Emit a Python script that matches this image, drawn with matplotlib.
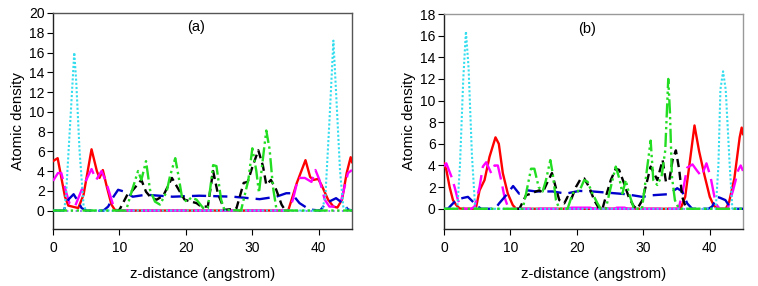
import matplotlib
matplotlib.use("Agg")
import matplotlib.pyplot as plt

plt.rcParams['font.family'] = ['Liberation Sans', 'DejaVu Sans']

# ---------------- Panel (a) data ----------------
a_red_x = [0, 0.7, 1.8, 2.3, 3.8, 4.6, 5.8, 6.6, 7.0, 7.5, 8.1, 8.8, 9.3, 10.0,
           35.4, 36.7, 38.0, 38.7, 39.2, 39.9, 40.4, 41.4, 42.2, 42.8, 43.5, 44.2, 44.8, 45]
a_red_y = [5.0, 5.3, 1.4, 0.5, 0.25, 1.6, 6.2, 4.0, 3.3, 4.1, 2.4, 0.6, 0.07, 0,
           0, 2.8, 5.1, 3.4, 3.1, 3.2, 2.6, 1.1, 0.4, 0.3, 1.1, 3.8, 5.4, 4.9]

a_mag_x = [0, 0.75, 1.25, 2.0, 2.5, 3.3, 4.5, 5.8, 6.5, 7.3, 8.0, 8.8, 9.3, 10.0,
           35.5, 36.1, 36.9, 37.9, 38.9, 39.5, 40.1, 40.9, 41.6, 42.6, 43.4, 44.4, 45]
a_mag_y = [3.0, 3.8, 3.8, 1.8, 0.7, 0.4, 2.4, 4.2, 3.1, 4.0, 2.9, 1.1, 0.07, 0,
           0, 1.1, 3.3, 3.3, 2.9, 4.1, 3.1, 1.1, 0.4, 0.4, 1.1, 3.8, 4.1]

a_cyan_x = [0, 1.7, 2.0, 2.6, 3.2, 3.5, 4.0, 4.6, 5.0,
            40.5, 41.0, 41.6, 42.2, 42.6, 43.2, 43.7, 45]
a_cyan_y = [0, 0, 2.0, 9.0, 16.0, 13.0, 6.0, 0.5, 0,
            0, 1.5, 9.0, 17.2, 12.0, 4.0, 0.3, 0]

a_blue_x = [0, 1.6, 2.3, 3.1, 3.8, 4.3, 5.0, 7.6, 8.3, 9.1, 9.8, 10.8, 12.0, 14.0, 18.0, 22.0,
            27.1, 31.1, 33.6, 35.1, 35.9, 37.1, 38.6, 40.2, 41.1, 42.6, 43.7, 44.4, 45]
a_blue_y = [0, 0, 1.1, 1.65, 0.9, 0.25, 0, 0, 0.4, 1.4, 2.1, 1.9, 1.4, 1.6, 1.4, 1.5,
            1.4, 1.15, 1.4, 1.75, 1.75, 0.75, 0.1, 0, 0.75, 1.25, 0.7, 0.1, 0]

a_black_x = [9.4, 10.0, 11.3, 11.8, 13.3, 14.0, 14.8, 15.6, 16.6, 17.9, 19.1, 19.8, 20.8,
             21.6, 22.3, 23.3, 24.1, 24.8, 25.8, 27.6, 28.7, 29.3, 30.0, 30.9, 31.6, 32.1,
             32.8, 33.6, 34.4, 34.9, 35.5]
a_black_y = [0, 0.07, 1.75, 1.9, 3.1, 1.9, 1.25, 1.1, 1.5, 3.3, 1.9, 1.1, 0.9,
             0.75, 0.4, 0.4, 4.0, 1.75, 0.07, 0.2, 2.8, 2.9, 4.4, 6.1, 4.5, 2.6,
             3.1, 2.1, 0.6, 0.07, 0]

a_green_x = [0, 11.0, 11.6, 12.8, 13.3, 14.0, 14.6, 15.35, 16.1, 17.1, 17.6, 18.4, 18.9,
             19.4, 20.1, 20.8, 21.6, 22.6, 23.3, 24.1, 24.6, 25.3, 25.8, 28.3, 29.4,
             30.0, 30.6, 31.0, 31.6, 32.1, 32.6, 33.1, 33.6, 34.0, 45]
a_green_y = [0, 0, 1.4, 4.0, 3.1, 5.0, 2.1, 0.9, 0.6, 1.9, 3.45, 5.3, 3.45,
             1.4, 0.9, 1.3, 1.1, 0.25, 0.25, 4.6, 4.5, 1.1, 0.07, 0, 3.1,
             6.3, 4.0, 1.8, 5.3, 8.1, 6.2, 2.4, 0.25, 0, 0]

# ---------------- Panel (b) data ----------------
b_red_x = [0, 0.35, 0.85, 1.35, 1.85, 2.35, 3.0,
           4.4, 4.85, 5.35, 6.1, 6.85, 7.75, 8.25, 8.85, 9.6, 10.35, 10.85,
           35.6, 36.3, 36.9, 37.7, 38.4, 39.2, 40.0, 40.6, 41.2,
           42.4, 42.9, 43.7, 44.5, 44.8, 45]
b_red_y = [4.2, 3.6, 2.0, 0.8, 0.34, 0.03, 0,
           0, 0.2, 1.7, 2.65, 4.8, 6.6, 6.0, 3.3, 1.4, 0.34, 0,
           0, 1.1, 3.9, 7.7, 5.3, 3.1, 1.1, 0.3, 0,
           0, 0.6, 2.8, 6.6, 7.5, 6.9]

b_mag_x = [0, 0.35, 1.1, 1.6, 2.1, 2.6, 3.1,
           4.1, 4.6, 5.35, 5.85, 6.35, 7.1, 7.6, 8.1, 8.6, 9.1, 9.6, 10.1,
           35.3, 35.9, 36.6, 37.4, 38.1, 38.75, 39.5, 40.1, 40.7, 41.1, 41.5,
           42.7, 43.5, 44.3, 44.65, 45]
b_mag_y = [3.9, 4.2, 3.0, 2.0, 0.8, 0.2, 0,
           0, 0.2, 2.0, 3.9, 4.3, 3.3, 4.0, 4.0, 2.65, 1.1, 0.2, 0,
           0, 1.5, 3.8, 4.1, 3.5, 3.0, 4.2, 3.0, 1.1, 0.3, 0,
           0, 1.7, 3.6, 4.0, 3.5]

b_cyan_x = [0, 2.0, 2.4, 2.9, 3.3, 3.7, 4.2, 4.7, 5.0,
            40.6, 40.9, 41.3, 41.6, 42.0, 42.4, 43.0, 43.4, 45]
b_cyan_y = [0, 0, 4.0, 12.0, 16.4, 13.0, 5.0, 0, 0,
            0, 0, 4.0, 11.0, 12.7, 11.0, 4.0, 0, 0]

b_blue_x = [0, 0.6, 1.1, 1.85, 2.85, 3.6, 4.35, 5.1, 5.6, 7.7, 8.3, 9.35, 10.4, 11.3,
            12.6, 13.85, 16.35, 18.35, 20.35, 22.35, 24.35, 27.35, 29.85, 31.35, 33.85,
            35.1, 35.85, 36.6, 37.35, 39.8, 40.35, 41.1, 41.6, 42.35, 42.85, 43.35, 45]
b_blue_y = [0, 0, 0.34, 0.8, 1.0, 1.1, 0.65, 0.2, 0, 0, 0.5, 1.25, 2.1, 1.4,
            1.7, 1.6, 1.6, 1.4, 1.65, 1.6, 1.5, 1.35, 1.1, 1.25, 1.35,
            1.9, 1.6, 0.5, 0, 0, 0.2, 1.1, 1.0, 0.8, 0.34, 0, 0]

b_black_x = [11.0, 11.35, 12.35, 13.1, 13.85, 14.35, 14.85, 15.6, 16.25, 16.85, 17.35,
             18.1, 18.6, 19.1, 19.85, 20.6, 21.1, 21.85, 22.6, 23.35, 23.85, 24.35,
             25.1, 25.85, 26.35, 27.1, 27.85, 28.6, 29.1, 29.85, 30.6, 31.1, 31.6,
             32.1, 32.9, 33.4, 33.9, 34.4, 34.9, 35.4, 35.85, 36.35, 36.8]
b_black_y = [0, 0, 1.25, 1.4, 1.6, 1.7, 1.5, 2.5, 3.3, 1.9, 0.8,
             0.5, 1.1, 0.8, 2.0, 2.8, 2.8, 2.0, 0.8, 0, 0, 1.1,
             2.65, 3.7, 3.6, 2.35, 1.0, 0.2, 0, 0.8, 2.65, 3.9, 3.3,
             2.65, 4.5, 2.5, 2.6, 4.5, 5.4, 3.6, 1.1, 0.2, 0]

b_green_x = [0, 11.85, 12.35, 13.1, 13.6, 14.25, 14.85, 15.35, 16.0, 16.35, 16.85, 17.35,
             18.6, 19.35, 19.85, 20.35, 21.1, 21.6, 22.35, 23.1, 23.6, 24.35, 25.1, 25.85,
             26.45, 26.85, 27.35, 27.85, 28.6, 29.8, 30.6, 31.1, 31.5, 32.1, 32.75,
             33.3, 33.75, 34.0, 34.3, 34.75, 35.35, 45]
b_green_y = [0, 0, 1.4, 3.7, 3.7, 2.0, 1.6, 2.65, 4.5, 3.3, 0.8, 0,
             0, 1.4, 1.7, 1.6, 2.65, 2.5, 1.4, 0.5, 0, 0, 2.0, 3.9,
             2.65, 1.4, 2.65, 1.4, 0, 0, 3.9, 6.3, 2.65, 2.2, 3.0,
             5.4, 12.0, 9.0, 3.0, 0.8, 0, 0]

b_pink_x = [18.5, 19.2, 22.0, 22.6, 25.6, 26.0, 27.2, 27.6]
b_pink_y = [0, 0.1, 0.1, 0, 0, 0.1, 0.1, 0]

zero_x = [0, 45]
zero_y = [0, 0]

panels = [
    dict(label="(a)", ylim=(-1.87, 20), yticks=list(range(0, 21, 2)), label_y=18.6,
         red=(a_red_x, a_red_y), mag=(a_mag_x, a_mag_y), cyan=(a_cyan_x, a_cyan_y),
         blue=(a_blue_x, a_blue_y), black=(a_black_x, a_black_y),
         green=(a_green_x, a_green_y), pink=None, edge='#555555'),
    dict(label="(b)", ylim=(-1.87, 18), yticks=list(range(0, 19, 2)), label_y=16.6,
         red=(b_red_x, b_red_y), mag=(b_mag_x, b_mag_y), cyan=(b_cyan_x, b_cyan_y),
         blue=(b_blue_x, b_blue_y), black=(b_black_x, b_black_y),
         green=(b_green_x, b_green_y), pink=(b_pink_x, b_pink_y), edge='#999999'),
]

fig = plt.figure(figsize=(7.58, 2.86), dpi=100)
rects = [[53/758, 1-229/286, 299/758, 216/286],
         [444/758, 1-229/286, 299/758, 215/286]]

for rect, p in zip(rects, panels):
    ax = fig.add_axes(rect)
    lw = 1.7
    ax.plot(zero_x, zero_y, color='#9966ff', lw=1.3, ls=(0, (1, 1.5)), zorder=2)
    ax.plot(*p['red'], color='#ff0000', lw=lw, zorder=3)
    ax.plot(*p['mag'], color='#ff00ff', lw=lw, dashes=(8, 3), zorder=3)
    if p['pink'] is not None:
        ax.plot(*p['pink'], color='#ff00ff', lw=lw, zorder=3)
    ax.plot(*p['blue'], color='#0000cc', lw=lw, dashes=(6, 3), zorder=4)
    ax.plot(*p['black'], color='#000000', lw=lw, dashes=(3.5, 2), zorder=4)
    ax.plot(*p['cyan'], color='#33ddee', lw=1.5, ls=(0, (1, 1)), zorder=5)
    ax.plot(*p['green'], color='#22dd22', lw=lw, dashes=(6, 1.5, 1, 1.5, 1, 1.5), zorder=6)

    ax.set_xlim(0, 45)
    ax.set_ylim(*p['ylim'])
    ax.set_xticks([0, 10, 20, 30, 40])
    ax.set_yticks(p['yticks'])
    ax.tick_params(axis='both', direction='out', length=4, width=0.8,
                   labelsize=10, colors='#000000', pad=2)
    ax.tick_params(axis='x', pad=5)
    for s in ['left', 'bottom']:
        ax.spines[s].set_color('#222222')
        ax.spines[s].set_linewidth(1.0)
    for s in ['top', 'right']:
        ax.spines[s].set_color(p['edge'])
        ax.spines[s].set_linewidth(1.0)
    ax.set_xlabel("z-distance (angstrom)", fontsize=10.8, labelpad=8)
    ax.set_ylabel("Atomic density", fontsize=10.8, labelpad=3)
    ax.text(21.6, p['label_y'], p['label'], fontsize=10.5, ha='center', va='center')

fig.savefig("out.png", dpi=100)
